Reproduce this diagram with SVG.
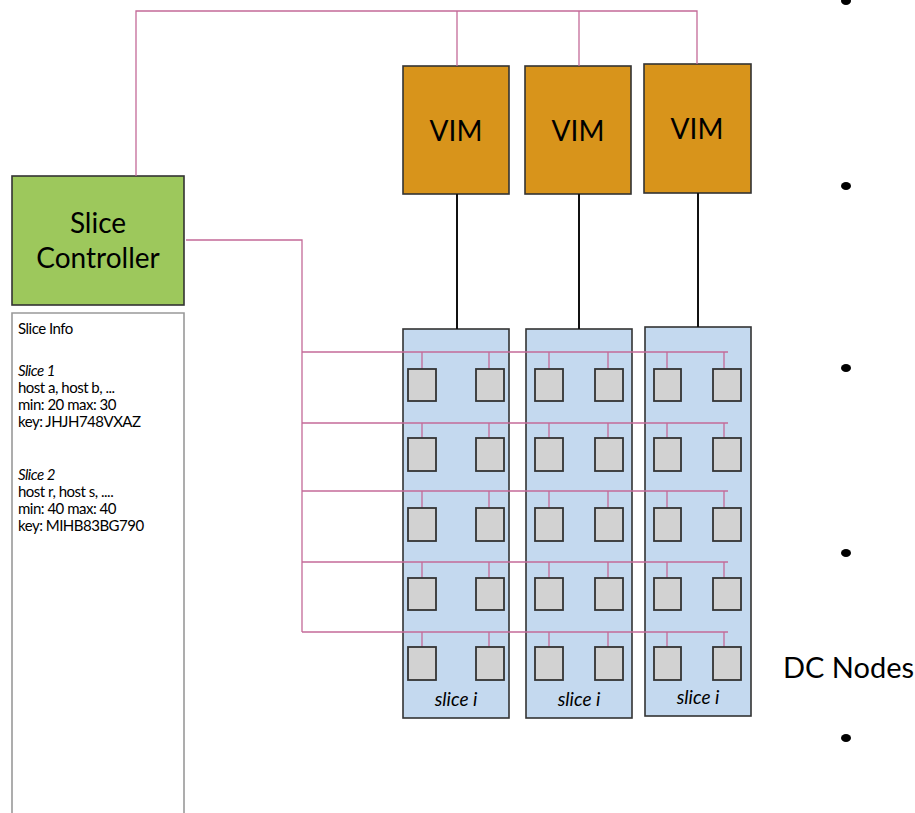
<svg xmlns="http://www.w3.org/2000/svg" width="915" height="813" viewBox="0 0 915 813">
<style>
.pink{stroke:#c46a98;stroke-width:1.3;fill:none}
.blk{stroke:#111;stroke-width:2;fill:none}
.vim{fill:#d8941b;stroke:#333;stroke-width:1.6}
.slice{fill:#c4d9ef;stroke:#333;stroke-width:1.6}
.sq{fill:#d2d2d2;stroke:#333;stroke-width:1.8}
.t{font-family:Lato,"Liberation Sans",sans-serif;fill:#000}
.vt{font-size:28px;text-anchor:middle}
.si{font-size:19px;font-style:italic;text-anchor:middle}
.info{font-size:15px;letter-spacing:-0.5px}
</style>
<rect width="915" height="813" fill="#fff"/>
<g id="slice-controller">
<rect x="12" y="176" width="172" height="129" fill="#9dc85c" stroke="#333" stroke-width="1.6"/>
<text class="t" x="98" y="233" font-size="28" text-anchor="middle">Slice</text>
<text class="t" x="98" y="268" font-size="28" text-anchor="middle">Controller</text>
</g>
<g id="slice-info">
<polyline points="12,813 12,313 184,313 184,813" fill="#fff" stroke="#999" stroke-width="1.6"/>
<text class="t info" x="18" y="334">Slice Info</text>
<text class="t info" x="18" y="376" font-style="italic">Slice 1</text>
<text class="t info" x="18" y="393">host a, host b, ...</text>
<text class="t info" x="18" y="410">min: 20 max: 30</text>
<text class="t info" x="18" y="427">key: JHJH748VXAZ</text>
<text class="t info" x="18" y="480" font-style="italic">Slice 2</text>
<text class="t info" x="18" y="497">host r, host s, ....</text>
<text class="t info" x="18" y="514">min: 40 max: 40</text>
<text class="t info" x="18" y="531">key: MIHB83BG790</text>
</g>
<g id="vim1"><rect class="vim" x="403" y="66" width="106" height="128"/><text class="t vt" x="456" y="141">VIM</text></g>
<g id="vim2"><rect class="vim" x="525" y="66" width="106" height="128"/><text class="t vt" x="578" y="141">VIM</text></g>
<g id="vim3"><rect class="vim" x="644" y="64" width="107" height="129"/><text class="t vt" x="697" y="139">VIM</text></g>
<g id="slice1">
<rect class="slice" x="403" y="329" width="106" height="389"/>
<text class="t si" x="456" y="706">slice i</text>
</g>
<g id="slice2">
<rect class="slice" x="526" y="329" width="106" height="389"/>
<text class="t si" x="579" y="706">slice i</text>
</g>
<g id="slice3">
<rect class="slice" x="645" y="327" width="106" height="389"/>
<text class="t si" x="698" y="704">slice i</text>
</g>
<g id="connectors">
<polyline class="pink" points="136,176 136,11 697,11 697,64"/>
<line class="pink" x1="457" y1="11" x2="457" y2="66"/>
<line class="pink" x1="579" y1="11" x2="579" y2="66"/>
<polyline class="pink" points="186,240 302,240 302,632"/>
<line class="blk" x1="457" y1="194" x2="457" y2="329"/>
<line class="blk" x1="579" y1="194" x2="579" y2="329"/>
<line class="blk" x1="698" y1="193" x2="698" y2="327"/>
<g id="buses">
<line class="pink" x1="302" y1="352" x2="728" y2="352"/>
<line class="pink" x1="302" y1="423" x2="728" y2="423"/>
<line class="pink" x1="302" y1="491" x2="728" y2="491"/>
<line class="pink" x1="302" y1="562" x2="728" y2="562"/>
<line class="pink" x1="302" y1="632" x2="728" y2="632"/>
</g>
<path class="pink" d="M422,352V369M489,352V369M549,352V369M608,352V369M667,352V369M724,352V369
M422,423V438M489,423V438M549,423V438M608,423V438M667,423V438M724,423V438
M422,491V508M489,491V508M549,491V508M608,491V508M667,491V508M724,491V508
M422,562V578M489,562V578M549,562V578M608,562V578M667,562V578M724,562V578
M422,632V647M489,632V647M549,632V647M608,632V647M667,632V647M724,632V647"/>
</g>
<g id="hosts">
<g id="row1">
<rect class="sq" x="408" y="369" width="28" height="32"/><rect class="sq" x="476" y="369" width="28" height="32"/>
<rect class="sq" x="535" y="369" width="28" height="32"/><rect class="sq" x="595" y="369" width="28" height="32"/>
<rect class="sq" x="654" y="369" width="27" height="32"/><rect class="sq" x="713" y="369" width="28" height="32"/>
</g>
<g id="row2">
<rect class="sq" x="408" y="438" width="28" height="33"/><rect class="sq" x="476" y="438" width="28" height="33"/>
<rect class="sq" x="535" y="438" width="28" height="33"/><rect class="sq" x="595" y="438" width="28" height="33"/>
<rect class="sq" x="654" y="438" width="27" height="33"/><rect class="sq" x="713" y="438" width="28" height="33"/>
</g>
<g id="row3">
<rect class="sq" x="408" y="508" width="28" height="33"/><rect class="sq" x="476" y="508" width="28" height="33"/>
<rect class="sq" x="535" y="508" width="28" height="33"/><rect class="sq" x="595" y="508" width="28" height="33"/>
<rect class="sq" x="654" y="508" width="27" height="33"/><rect class="sq" x="713" y="508" width="28" height="33"/>
</g>
<g id="row4">
<rect class="sq" x="408" y="578" width="28" height="32"/><rect class="sq" x="476" y="578" width="28" height="32"/>
<rect class="sq" x="535" y="578" width="28" height="32"/><rect class="sq" x="595" y="578" width="28" height="32"/>
<rect class="sq" x="654" y="578" width="27" height="32"/><rect class="sq" x="713" y="578" width="28" height="32"/>
</g>
<g id="row5">
<rect class="sq" x="408" y="647" width="28" height="33"/><rect class="sq" x="476" y="647" width="28" height="33"/>
<rect class="sq" x="535" y="647" width="28" height="33"/><rect class="sq" x="595" y="647" width="28" height="33"/>
<rect class="sq" x="654" y="647" width="27" height="33"/><rect class="sq" x="713" y="647" width="28" height="33"/>
</g>
</g>
<g id="dc-nodes">
<ellipse cx="846" cy="1" rx="5" ry="4"/>
<ellipse cx="846" cy="186" rx="5" ry="4"/>
<ellipse cx="846" cy="368" rx="5" ry="4"/>
<ellipse cx="846" cy="553" rx="5" ry="4"/>
<ellipse cx="846" cy="738" rx="5" ry="4"/>
<text class="t" x="783" y="678" font-size="29">DC Nodes</text>
</g>
</svg>
